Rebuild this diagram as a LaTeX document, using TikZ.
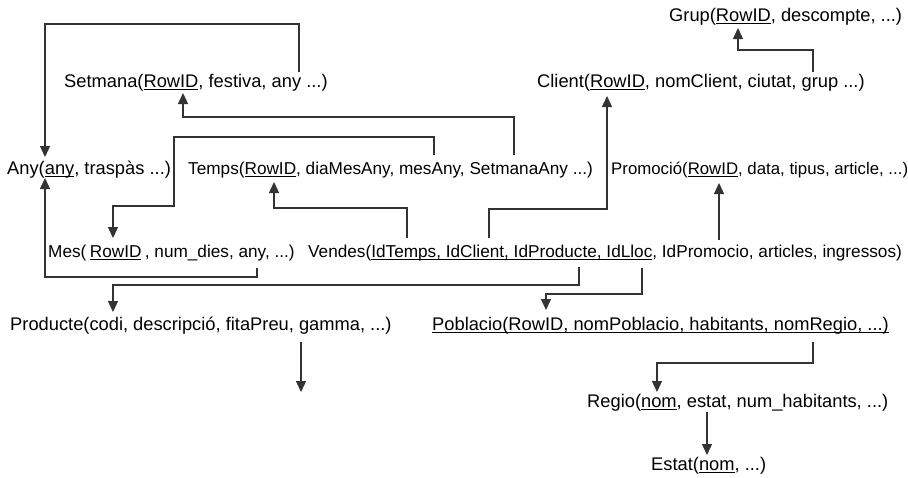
\documentclass[tikz,border=0pt]{standalone}
\usepackage{fontspec}
\setmainfont{Liberation Sans}
\usetikzlibrary{arrows.meta}
\definecolor{linegray}{HTML}{333333}
\newsavebox\ulbox
% key attributes: a rule under the text, at a fixed depth
\newcommand\keyul[1]{\sbox\ulbox{#1}\rlap{\rule[-3pt]{\wd\ulbox}{1.3pt}}\usebox\ulbox}
\tikzset{
  rel/.style={anchor=base west, inner sep=0pt, text=black,
    font=\fontsize{18.3}{20}\selectfont},
  relnarrow/.style={rel, font=\fontsize{17.2}{20}\selectfont},
  relslim/.style={rel, font=\fontsize{16.8}{20}\selectfont},
  link/.style={draw=linegray, line width=1.3pt,
    -{Triangle[width=10pt,length=11pt]}},
}
\begin{document}
\begin{tikzpicture}[x=1pt,y=-1pt]
\fill[white] (0,0) rectangle (908,477);
\useasboundingbox (0,0) rectangle (908,477);

% relations
\node[rel] (grup) at (669,21) {Grup(\keyul{RowID}, descompte, ...)};
\node[rel] (setmana) at (64,87) {Setmana(\keyul{RowID}, festiva, any ...)};
\node[rel] (client) at (537,87) {Client(\keyul{RowID}, nomClient, ciutat, grup ...)};
\node[rel] (any) at (7,174) {Any(\keyul{any}, traspàs ...)};
\node[relnarrow] (temps) at (188,174) {Temps(\keyul{RowID}, diaMesAny, mesAny, SetmanaAny ...)};
\node[relslim] (promocio) at (611,174) {Promoció(\keyul{RowID}, data, tipus, article, ...)};
\node[relnarrow] (mes) at (48,257) {Mes(\hspace{0.2em}\keyul{RowID}\hspace{0.2em}, num\_dies, any, ...)};
\node[relnarrow] (vendes) at (308,257) {Vendes(\keyul{IdTemps, IdClient, IdProducte, IdLloc}, IdPromocio, articles, ingressos)};
\node[rel] (producte) at (10,330) {Producte(codi, descripció, fitaPreu, gamma, ...)};
\node[rel] (poblacio) at (432,330) {\keyul{Poblacio(RowID, nomPoblacio, habitants, nomRegio, ...)}};
\node[rel] (regio) at (587,407) {Regio(\keyul{nom}, estat, num\_habitants, ...)};
\node[rel] (estat) at (651,470) {Estat(\keyul{nom}, ...)};

% attachment points on the attributes
\coordinate (setmanaAny) at (299,72);
\coordinate (anyTop) at (45,157);
\coordinate (tempsSetmana) at (514,155);
\coordinate (setmanaKey) at (183,93);
\coordinate (tempsMes) at (434,155);
\coordinate (mesKey) at (113,238);
\coordinate (mesAny) at (257,268);
\coordinate (anyBottom) at (45,178);
\coordinate (vendesTemps) at (407,238);
\coordinate (tempsKey) at (274,182);
\coordinate (vendesClient) at (489,238);
\coordinate (clientKey) at (607,96);
\coordinate (vendesPromo) at (719,240);
\coordinate (promoKey) at (719,183);
\coordinate (clientGrup) at (813,72);
\coordinate (grupKey) at (738,28);
\coordinate (vendesProd) at (579,267);
\coordinate (prodTop) at (113,312);
\coordinate (vendesLloc) at (642,268);
\coordinate (poblTop) at (546,310);
\coordinate (prodGamma) at (301,342);
\coordinate (prodOut) at (301,392);
\coordinate (poblRegio) at (813,342);
\coordinate (regioTop) at (657,392);
\coordinate (regioEstat) at (707,412);
\coordinate (estatTop) at (707,455);

% foreign keys
\draw[link] (setmanaAny) -- ++(0,-48) -| (anyTop);
\draw[link] (tempsSetmana) -- ++(0,-38) -| (setmanaKey);
\draw[link] (tempsMes) -- ++(0,-18) -| ++(-260,69) -| (mesKey);
\draw[link] (mesAny) -- ++(0,9) -| (anyBottom);
\draw[link] (vendesTemps) -- ++(0,-30) -| (tempsKey);
\draw[link] (vendesClient) -- ++(0,-29) -| (clientKey);
\draw[link] (vendesPromo) -- (promoKey);
\draw[link] (clientGrup) -- ++(0,-22) -| (grupKey);
\draw[link] (vendesProd) -- ++(0,18) -| (prodTop);
\draw[link] (vendesLloc) -- ++(0,26) -| (poblTop);
\draw[link] (prodGamma) -- (prodOut);
\draw[link] (poblRegio) -- ++(0,21) -| (regioTop);
\draw[link] (regioEstat) -- (estatTop);
\end{tikzpicture}
\end{document}
